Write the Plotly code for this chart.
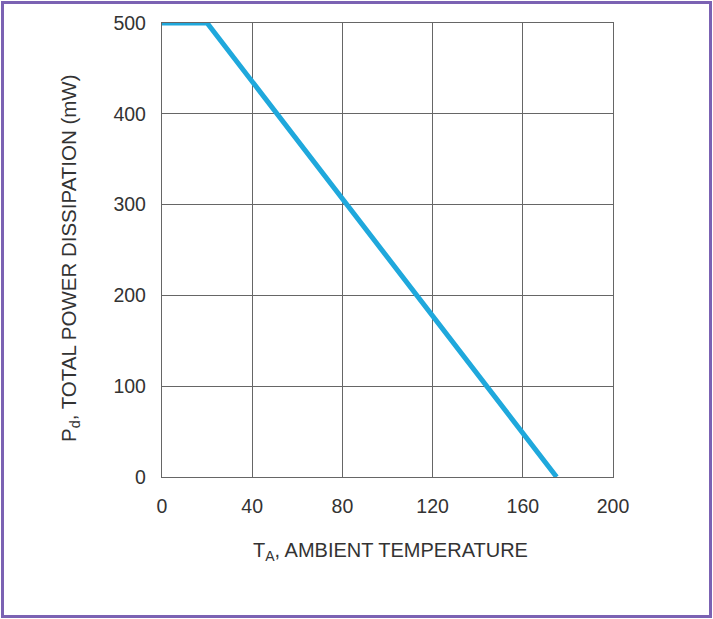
import plotly.graph_objects as go

temp_c = [0, 20, 175]
power_mw = [500, 500, 0]
x_ticks = [0, 40, 80, 120, 160, 200]
y_ticks = [0, 100, 200, 300, 400, 500]

W, H = 713, 619
L, R, T, B = 162, 100, 23, 142
pw, ph = W - L - R, H - T - B

fig = go.Figure()
fig.add_trace(go.Scatter(x=temp_c, y=power_mw, mode="lines",
                         line=dict(color="#1fa8dc", width=5), showlegend=False, cliponaxis=False))

font = dict(family="Liberation Sans, Arial, sans-serif", size=19.5, color="#333333")
axis_common = dict(showgrid=True, gridcolor="#666666", gridwidth=1.3,
                   showline=True, linecolor="#666666", linewidth=1.3, mirror=True, zeroline=False,
                   ticks="outside", tickcolor="rgba(0,0,0,0)", fixedrange=True)
fig.update_layout(
    width=W, height=H, margin=dict(l=L, r=R, t=T, b=B),
    paper_bgcolor="white", plot_bgcolor="white", font=font,
    xaxis=dict(range=[0, 200], tickvals=x_ticks, ticklen=11, **axis_common),
    yaxis=dict(range=[0, 500], tickvals=y_ticks, ticklen=11, **axis_common),
    annotations=[
        dict(text="T<sub>A</sub>, AMBIENT TEMPERATURE", xref="paper", yref="paper",
             x=(390 - L) / pw, y=-(551 - T - ph) / ph, showarrow=False, font=dict(size=20),
             xanchor="center", yanchor="middle"),
        dict(text="P<sub>d</sub>, TOTAL POWER DISSIPATION (mW)", xref="paper", yref="paper",
             x=-(L - 70) / pw, y=(T + ph - 258) / ph, showarrow=False, font=dict(size=20.5),
             textangle=-90, xanchor="center", yanchor="middle"),
    ],
    shapes=[dict(type="rect", xref="paper", yref="paper",
                 x0=-(L - 2.5) / pw, x1=1 + (R - 2.5) / pw,
                 y0=-(B - 2.5) / ph, y1=1 + (T - 2.5) / ph,
                 line=dict(color="#7b62b3", width=3), layer="below")],
)
fig.write_html("out.html", config={"displayModeBar": False},
               post_script="document.body.style.margin='0';document.body.style.overflow='hidden';")
